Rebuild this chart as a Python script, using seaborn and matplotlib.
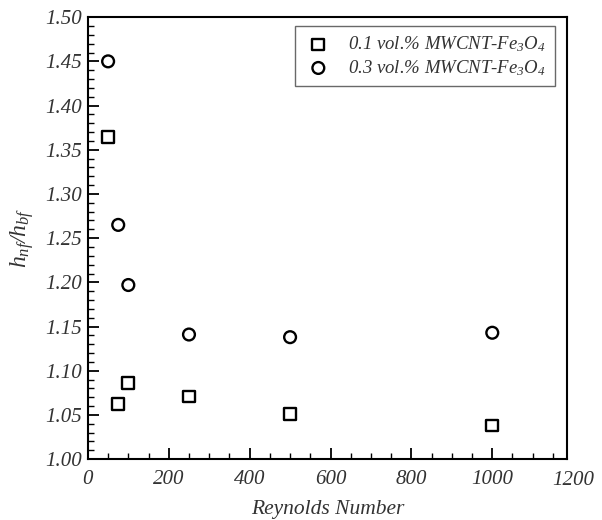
import seaborn as sns
import matplotlib.pyplot as plt
import pandas as pd
from matplotlib.ticker import MultipleLocator, FormatStrFormatter
import matplotlib.transforms as mtransforms

# data
reynolds = [50, 75, 100, 250, 500, 1000]
ratio_01 = [1.364, 1.062, 1.086, 1.071, 1.051, 1.038]
ratio_03 = [1.450, 1.265, 1.197, 1.141, 1.138, 1.143]
labels = [r"0.1 vol.% MWCNT-Fe$_3$O$_4$", r"0.3 vol.% MWCNT-Fe$_3$O$_4$"]

df01 = pd.DataFrame({"Re": reynolds, "h": ratio_01})
df03 = pd.DataFrame({"Re": reynolds, "h": ratio_03})

sns.set_style("white")
plt.rcParams["font.family"] = ["Liberation Serif", "DejaVu Serif"]
plt.rcParams["font.style"] = "italic"
plt.rcParams["mathtext.fontset"] = "custom"
plt.rcParams["mathtext.it"] = "Liberation Serif:italic"
plt.rcParams["mathtext.rm"] = "Liberation Serif:italic"

txt = "#333333"

fig = plt.figure(figsize=(6.02, 5.2), dpi=100)
ax = fig.add_axes([0.146, 0.117, 0.796, 0.850])

sns.scatterplot(data=df01, x="Re", y="h", marker="s", s=72, facecolor="none",
                edgecolor="black", linewidth=1.7, label=labels[0], ax=ax)
sns.scatterplot(data=df03, x="Re", y="h", marker="o", s=72, facecolor="none",
                edgecolor="black", linewidth=1.7, label=labels[1], ax=ax)

ax.set_xlim(0, 1185)
ax.set_ylim(1.0, 1.5)
ax.xaxis.set_major_locator(MultipleLocator(200))
ax.xaxis.set_minor_locator(MultipleLocator(50))
ax.yaxis.set_major_locator(MultipleLocator(0.05))
ax.yaxis.set_minor_locator(MultipleLocator(0.01))
ax.yaxis.set_major_formatter(FormatStrFormatter("%.2f"))

ax.tick_params(axis="both", which="major", direction="in", length=8, width=1.3,
               labelsize=15, labelcolor=txt, color="black",
               bottom=True, left=True, top=False, right=False)
ax.tick_params(axis="x", which="major", pad=8)
ax.tick_params(axis="y", which="major", pad=4)
ax.tick_params(axis="both", which="minor", direction="in", length=4, width=1.0,
               color="black", bottom=True, left=True, top=False, right=False)

# the 1200 label sits just beyond the right frame
trans = mtransforms.blended_transform_factory(ax.transData, ax.transAxes)
ax.text(1200, -0.0275, "1200", transform=trans, ha="center", va="top",
        fontsize=15, color=txt)

for sp in ax.spines.values():
    sp.set_visible(True)
    sp.set_color("black")
    sp.set_linewidth(1.5)

ax.set_xlabel("Reynolds Number", fontsize=15.5, color=txt, labelpad=8)
ax.set_ylabel(r"$h_{nf}/h_{bf}$", fontsize=17, color=txt, labelpad=7)

leg = ax.legend(loc="upper right", bbox_to_anchor=(0.974, 0.98), frameon=True,
                fancybox=False, edgecolor="#444444", fontsize=13.5,
                handletextpad=0.8, borderpad=0.45, labelspacing=0.2,
                handlelength=1.6, borderaxespad=0)
leg.get_frame().set_linewidth(1.0)
for t in leg.get_texts():
    t.set_color(txt)

fig.savefig("out.png", dpi=100)
plt.close(fig)
